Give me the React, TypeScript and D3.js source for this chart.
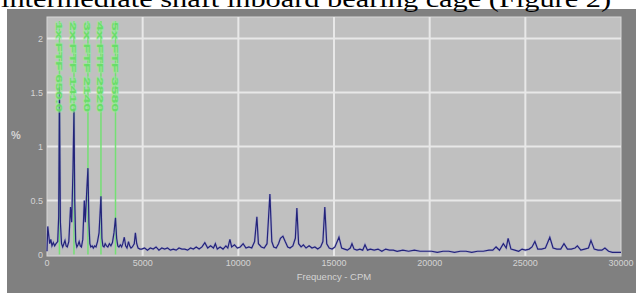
import React from 'react';
import * as d3 from 'd3';

const title = 'intermediate shaft inboard bearing cage (Figure 2)';
const yTicks = [0, 0.5, 1, 1.5, 2];
const xTicks = [0, 5000, 10000, 15000, 20000, 25000, 30000];
const yLabel = '%';
const xLabel = 'Frequency - CPM';

// harmonic markers (green cursors)
const markerFreqs = [650, 1410, 2140, 2820, 3580];
const markerLabels = ['1x FTF 650.0', '2x FTF 1410', '3x FTF 2140', '4x FTF 2820', '5x FTF 3580'];

// spectrum: [CPM, %]
const spectrum: [number, number][] = [
  [0, 0.03], [40, 0.26], [90, 0.18], [140, 0.1], [200, 0.14], [260, 0.08], [330, 0.11], [400, 0.08],
  [470, 0.1], [560, 0.12], [610, 0.35], [650, 1.55], [700, 0.3], [760, 0.1], [820, 0.07], [880, 0.1],
  [940, 0.13], [1000, 0.08], [1060, 0.07], [1140, 0.12], [1230, 0.44], [1290, 0.3], [1360, 0.8],
  [1410, 1.35], [1450, 0.5], [1500, 0.12], [1560, 0.07], [1620, 0.09], [1680, 0.12], [1740, 0.08],
  [1800, 0.07], [1870, 0.14], [1950, 0.5], [2000, 0.3], [2080, 0.6], [2140, 0.8], [2190, 0.3],
  [2240, 0.1], [2290, 0.07], [2360, 0.08], [2420, 0.06], [2490, 0.08], [2560, 0.07], [2640, 0.12],
  [2720, 0.2], [2820, 0.54], [2870, 0.15], [2920, 0.08], [2980, 0.07], [3040, 0.1], [3110, 0.08],
  [3180, 0.07], [3260, 0.1], [3340, 0.08], [3420, 0.11], [3500, 0.2], [3580, 0.34], [3640, 0.15],
  [3700, 0.08], [3760, 0.07], [3830, 0.09], [3900, 0.07], [3960, 0.1], [4040, 0.16], [4110, 0.08],
  [4180, 0.06], [4260, 0.12], [4320, 0.08], [4390, 0.06], [4460, 0.07], [4560, 0.1], [4620, 0.2],
  [4690, 0.1], [4760, 0.06], [4860, 0.05], [4950, 0.05], [5100, 0.06], [5250, 0.04], [5400, 0.06],
  [5550, 0.05], [5700, 0.07], [5850, 0.04], [6000, 0.06], [6150, 0.05], [6300, 0.06], [6450, 0.04],
  [6600, 0.05], [6750, 0.04], [6900, 0.06], [7050, 0.05], [7200, 0.05], [7350, 0.04], [7500, 0.06],
  [7650, 0.05], [7800, 0.07], [7950, 0.05], [8100, 0.07], [8250, 0.11], [8400, 0.06], [8550, 0.08],
  [8700, 0.06], [8800, 0.1], [8900, 0.05], [9050, 0.07], [9200, 0.05], [9350, 0.08], [9450, 0.06],
  [9560, 0.14], [9650, 0.07], [9800, 0.09], [9950, 0.06], [10100, 0.07], [10250, 0.1], [10400, 0.06],
  [10550, 0.07], [10700, 0.06], [10850, 0.12], [10970, 0.35], [11050, 0.1], [11200, 0.07],
  [11350, 0.06], [11500, 0.1], [11650, 0.56], [11750, 0.12], [11850, 0.07], [11980, 0.06],
  [12100, 0.1], [12200, 0.15], [12330, 0.17], [12450, 0.12], [12580, 0.07], [12700, 0.06],
  [12850, 0.08], [12980, 0.15], [13060, 0.43], [13150, 0.1], [13280, 0.07], [13400, 0.09],
  [13540, 0.06], [13700, 0.08], [13850, 0.06], [14000, 0.07], [14150, 0.05], [14300, 0.07],
  [14420, 0.12], [14520, 0.44], [14620, 0.1], [14750, 0.06], [14900, 0.05], [15050, 0.07],
  [15260, 0.16], [15400, 0.06], [15550, 0.05], [15700, 0.04], [15850, 0.06], [15940, 0.1],
  [16050, 0.05], [16200, 0.04], [16350, 0.05], [16500, 0.04], [16620, 0.09], [16750, 0.04],
  [16900, 0.05], [17100, 0.04], [17300, 0.05], [17500, 0.03], [17700, 0.05], [17900, 0.04],
  [18100, 0.04], [18300, 0.03], [18600, 0.04], [18900, 0.03], [19200, 0.04], [19500, 0.03],
  [19800, 0.03], [20100, 0.03], [20400, 0.02], [20700, 0.03], [21000, 0.03], [21300, 0.02],
  [21600, 0.03], [21900, 0.03], [22200, 0.02], [22500, 0.03], [22800, 0.03], [23100, 0.04],
  [23300, 0.04], [23470, 0.07], [23650, 0.04], [23850, 0.1], [24000, 0.06], [24100, 0.15],
  [24250, 0.05], [24450, 0.04], [24650, 0.03], [24830, 0.05], [25000, 0.04], [25200, 0.05],
  [25350, 0.07], [25500, 0.12], [25650, 0.05], [25850, 0.05], [26050, 0.06], [26280, 0.16],
  [26450, 0.06], [26650, 0.05], [26850, 0.05], [27020, 0.1], [27200, 0.05], [27400, 0.05],
  [27600, 0.06], [27720, 0.08], [27900, 0.04], [28100, 0.05], [28300, 0.06], [28430, 0.13],
  [28600, 0.05], [28800, 0.04], [29000, 0.04], [29160, 0.06], [29350, 0.03], [29550, 0.02],
  [29800, 0.02], [30000, 0.02],
];

const W = 636;
const H = 293;
const plot = { left: 47, right: 621, top: 17, bottom: 256 };

export default function App() {
  const x = d3.scaleLinear().domain([0, 30000]).range([plot.left, plot.right]);
  const y = d3.scaleLinear().domain([0, 2.2]).range([254.5, plot.top]);
  const line = d3
    .line<[number, number]>()
    .x((d) => x(d[0]))
    .y((d) => y(d[1]));

  const tickColor = '#d4d4d4';
  const sans = "Arial, 'Liberation Sans', sans-serif";

  return (
    <div style={{ position: 'absolute', left: 0, top: 0, background: '#fff' }}>
      <svg width={W} height={H} style={{ display: 'block' }}>
        <rect x={0} y={0} width={W} height={H} fill="#fff" />
        <rect x={7} y={9} width={W - 7} height={H - 9} fill="#808080" />
        <text
          x={1}
          y={7}
          fontFamily="'Liberation Serif', serif"
          fontSize={24}
          textLength={610}
          lengthAdjust="spacingAndGlyphs"
          fill="#000"
        >
          {title}
        </text>

        <rect
          x={plot.left}
          y={plot.top}
          width={plot.right - plot.left}
          height={plot.bottom - plot.top}
          fill="#c0c0c0"
          stroke="#d8d8d8"
          strokeWidth={1}
        />

        {/* grid */}
        {yTicks
          .filter((t) => t > 0)
          .map((t) => (
            <line key={'gy' + t} x1={plot.left} x2={plot.right} y1={y(t)} y2={y(t)} stroke="#e8e8e8" strokeWidth={2} />
          ))}
        {xTicks
          .filter((t) => t > 0 && t < 30000)
          .map((t) => (
            <line key={'gx' + t} x1={x(t)} x2={x(t)} y1={plot.top} y2={plot.bottom} stroke="#e8e8e8" strokeWidth={2} />
          ))}

        {/* harmonic cursor lines */}
        {markerFreqs.map((f, i) => (
          <line key={'ml' + i} x1={x(f)} x2={x(f)} y1={plot.top + 4} y2={y(0)} stroke="#74e074" strokeWidth={1.5} />
        ))}

        {/* spectrum */}
        <path d={line(spectrum) || ''} fill="none" stroke="#9a9ad0" strokeWidth={2.4} strokeOpacity={0.5} />
        <path d={line(spectrum) || ''} fill="none" stroke="#23237a" strokeWidth={1.2} />

        {/* harmonic cursor labels, drawn over the spectrum */}
        {markerFreqs.map((f, i) => (
          <text
            key={'mt' + i}
            transform={`translate(${x(f) - 3.5},${plot.top + 5}) rotate(90)`}
            fontFamily={sans}
            fontSize={9}
            fontWeight="bold"
            fill="#62de62"
            fillOpacity={0.9}
            stroke="#9aea9a"
            strokeWidth={1.6}
            strokeOpacity={0.6}
            paintOrder="stroke"
            textLength={90}
            lengthAdjust="spacingAndGlyphs"
          >
            {markerLabels[i]}
          </text>
        ))}

        {/* y ticks */}
        {yTicks.map((t) => (
          <text key={'ty' + t} x={plot.left - 4} y={y(t) + 3} textAnchor="end" fontFamily={sans} fontSize={9} fill={tickColor}>
            {d3.format('~g')(t)}
          </text>
        ))}
        {xTicks.map((t) => (
          <text key={'tx' + t} x={x(t)} y={266} textAnchor="middle" fontFamily={sans} fontSize={9} fill={tickColor}>
            {t}
          </text>
        ))}
        <text x={16} y={139} textAnchor="middle" fontFamily={sans} fontSize={11} fontWeight="bold" fill={tickColor}>
          {yLabel}
        </text>
        <text x={(plot.left + plot.right) / 2} y={280} textAnchor="middle" fontFamily={sans} fontSize={9.5} fill={tickColor}>
          {xLabel}
        </text>
      </svg>
    </div>
  );
}
